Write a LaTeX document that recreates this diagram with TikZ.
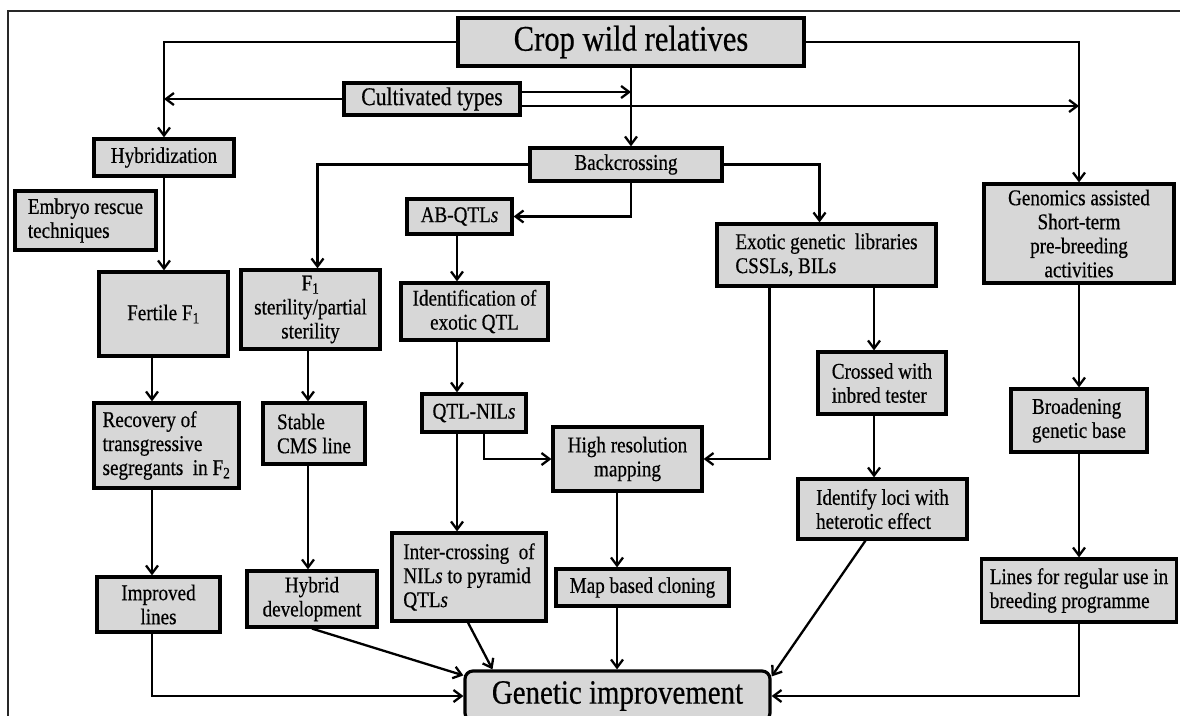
\documentclass[tikz,border=0pt]{standalone}
\usepackage{fontspec}
\setmainfont{Liberation Serif}[FakeStretch=0.85, FakeBold=0.5]
\usepackage{tikz}
\usetikzlibrary{arrows.meta}
\usepackage{xcolor}
\definecolor{boxgray}{RGB}{215,215,215}
\definecolor{framegray}{RGB}{40,40,40}

\begin{document}
\begin{tikzpicture}[
    x=1pt, y=-1pt,
    every node/.style={font=\fontsize{22.5}{24}\selectfont},
    stepbox/.style={rectangle, draw=black, fill=boxgray, line width=3.2pt,
                    inner sep=3pt, align=center},
    leftbox/.style={stepbox, align=left},
    bigbox/.style={stepbox, font=\fontsize{36}{40}\selectfont},
    arrow/.style={-{Straight Barb[length=8pt,width=12pt]}, line width=2.3pt},
    frameline/.style={line width=1.8pt, color=framegray}
]
\useasboundingbox (0,0) rectangle (1180,715);
\clip (0,0) rectangle (1180,715);
\draw[frameline] (8,730) |- (1190,11);

\node[bigbox, minimum width=346, minimum height=48] (crw) at (631,42) {Crop wild relatives};
\node[stepbox, minimum width=176, minimum height=32, font=\fontsize{25.5}{28}\selectfont] (cult) at (432,99) {Cultivated types};
\node[stepbox, minimum width=140, minimum height=37] (hyb) at (164,157.5) {Hybridization};
\node[stepbox, minimum width=192, minimum height=33] (back) at (626,164.5) {Backcrossing};
\node[leftbox, minimum width=141, minimum height=59] (embryo) at (85.5,220.5) {Embryo rescue\\techniques};
\node[stepbox, minimum width=105, minimum height=35] (abq) at (459.5,216.5) {AB-QTL\textit{s}};
\node[leftbox, minimum width=219, minimum height=62] (exotic) at (826.5,255) {Exotic genetic \ libraries\\CSSLs, BILs};
\node[stepbox, minimum width=190, minimum height=99] (genom) at (1079,233.5) {Genomics assisted\\Short-term\\pre-breeding\\activities};
\node[stepbox, minimum width=129, minimum height=84] (fertile) at (163.5,314) {Fertile F\textsubscript{1}};
\node[stepbox, minimum width=139, minimum height=79] (f1ster) at (310.5,309.5) {F\textsubscript{1}\\sterility/partial\\sterility};
\node[stepbox, minimum width=147, minimum height=57] (ident) at (474.5,311.5) {Identification of\\exotic QTL};
\node[leftbox, minimum width=128, minimum height=62] (crossed) at (882,383) {Crossed with\\inbred tester};
\node[leftbox, minimum width=145, minimum height=85] (recov) at (166.5,445.5) {Recovery of\\transgressive\\segregants \ in F\textsubscript{2}};
\node[leftbox, minimum width=102, minimum height=61] (stable) at (314,433.5) {Stable\\CMS line};
\node[stepbox, minimum width=104, minimum height=38] (qtlnil) at (474,413) {QTL-NIL\textit{s}};
\node[stepbox, minimum width=149, minimum height=64] (hires) at (627.5,459) {High resolution\\mapping};
\node[leftbox, minimum width=136, minimum height=63] (broad) at (1079,420.5) {Broadening\\genetic base};
\node[leftbox, minimum width=169, minimum height=60] (identloci) at (882.5,509) {Identify loci with\\heterotic effect};
\node[stepbox, minimum width=123, minimum height=55] (improved) at (158.5,604.5) {Improved\\lines};
\node[stepbox, minimum width=130, minimum height=56] (hybdev) at (312,599) {Hybrid\\development};
\node[leftbox, minimum width=154, minimum height=88] (inter) at (469,577) {Inter-crossing \ of\\NIL\textit{s} to pyramid\\QTL\textit{s}};
\node[stepbox, minimum width=173, minimum height=37] (mapclone) at (642.5,587.5) {Map based cloning};
\node[leftbox, minimum width=195, minimum height=63] (lines) at (1079,590.5) {Lines for regular use in\\breeding programme};
\node[stepbox, rounded corners=8pt, minimum width=305, minimum height=50, font=\fontsize{34}{38}\selectfont] (genimp) at (617.5,696) {Genetic improvement};

\coordinate (acol) at (152,0);
\coordinate (bcol) at (308,0);
\coordinate (ccol) at (457,0);
\coordinate (dcol) at (617,0);
\coordinate (ecol) at (874,0);

\draw[arrow] (crw.west) -| (hyb.north);
\draw[arrow] (crw.south) -- (crw.south |- back.north);
\draw[arrow] (crw.east) -| (genom.north);
\draw[arrow] (cult.west) -- (cult.west -| hyb.north);
\draw[arrow] ([yshift=7]cult.east) -- ([yshift=7]cult.east -| crw.south);
\draw[arrow] ([yshift=-7]cult.east) -- ([yshift=-7]cult.east -| genom.north);
\draw[arrow] (back.west) -| ([xshift=7]f1ster.north);
\draw[arrow] (crw.south |- back.south) |- (abq.east);
\draw[arrow] (back.east) -| ([xshift=-7]exotic.north);
\draw[arrow] (hyb.south) -- (hyb.south |- fertile.north);
\draw[arrow] (fertile.south -| acol) -- (recov.north -| acol);
\draw[arrow] (recov.south -| acol) -- (improved.north -| acol);
\draw[arrow] (improved.south -| acol) |- (genimp.west);
\draw[arrow] (f1ster.south -| bcol) -- (stable.north -| bcol);
\draw[arrow] (stable.south -| bcol) -- (hybdev.north -| bcol);
\draw[arrow] (hybdev.south) -- ([yshift=-6]genimp.north west);
\draw[arrow] (abq.south -| ccol) -- (ident.north -| ccol);
\draw[arrow] (ident.south -| ccol) -- (qtlnil.north -| ccol);
\draw[arrow] (qtlnil.south -| ccol) -- (inter.north -| ccol);
\draw[arrow] ([xshift=10]qtlnil.south) |- (hires.west);
\draw[arrow] ([xshift=-1]inter.south) -- ([xshift=-125]genimp.north);
\draw[arrow] (hires.south -| dcol) -- (mapclone.north -| dcol);
\draw[arrow] (mapclone.south -| dcol) -- (genimp.north -| dcol);
\draw[arrow] ([xshift=-57]exotic.south) |- (hires.east);
\draw[arrow] (exotic.south -| ecol) -- (crossed.north -| ecol);
\draw[arrow] (crossed.south -| ecol) -- (identloci.north -| ecol);
\draw[arrow] ([xshift=-17]identloci.south) -- ([yshift=-7]genimp.north east);
\draw[arrow] (genom.south) -- (broad.north);
\draw[arrow] (broad.south) -- (lines.north);
\draw[arrow] (lines.south) |- (genimp.east);
\end{tikzpicture}
\end{document}
